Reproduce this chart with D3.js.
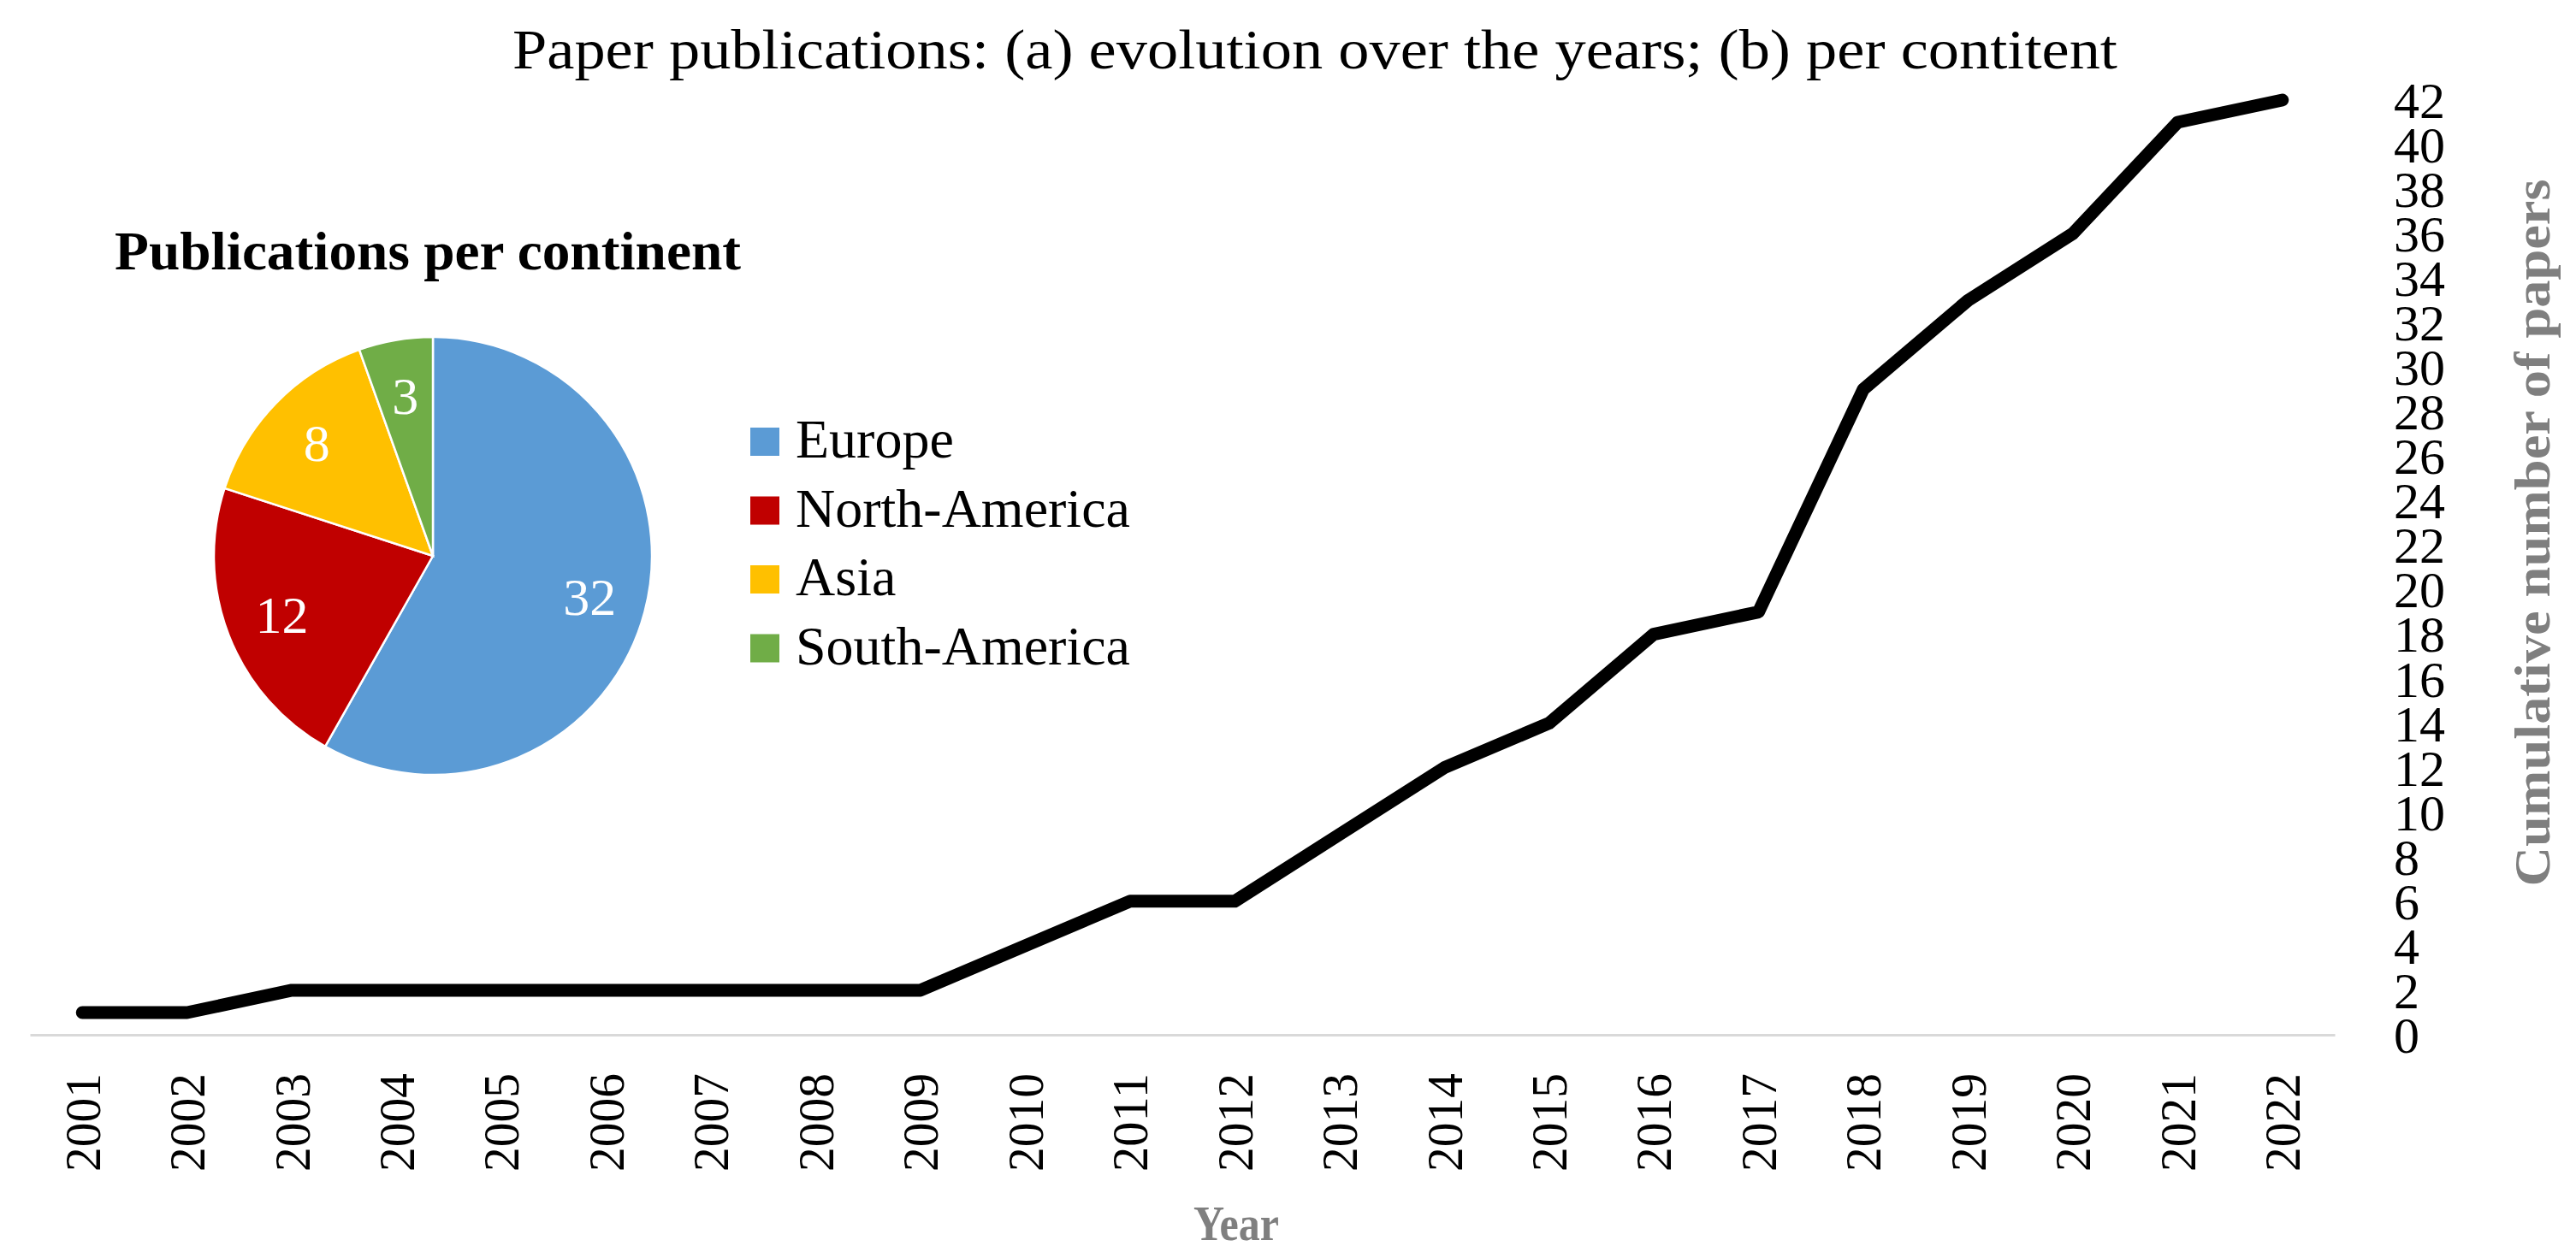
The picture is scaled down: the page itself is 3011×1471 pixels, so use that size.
<!DOCTYPE html>
<html>
<head>
<meta charset="utf-8">
<script src="https://cdn.jsdelivr.net/npm/d3@7"></script>
<style>
  html, body { margin: 0; padding: 0; background: #ffffff; }
  svg { display: block; }
  text { font-family: "Liberation Serif", "DejaVu Serif", serif; }
</style>
</head>
<body>
<script>
// ---------- data ----------
const years = ["2001","2002","2003","2004","2005","2006","2007","2008","2009","2010","2011",
               "2012","2013","2014","2015","2016","2017","2018","2019","2020","2021","2022"];
const cumulativePapers = [1,1,2,2,2,2,2,2,2,4,6,6,9,12,14,18,19,29,33,36,41,42];
const yTickValues = [0,2,4,6,8,10,12,14,16,18,20,22,24,26,28,30,32,34,36,38,40,42];
const continents = ["Europe","North-America","Asia","South-America"];
const continentCounts = [32,12,8,3];
const continentColors = ["#5b9bd5","#c00000","#ffc000","#70ad47"];
const titleText = "Paper publications: (a) evolution over the years; (b) per contitent";
const pieTitle = "Publications per continent";
const xTitle = "Year";
const yTitle = "Cumulative number of papers";

// ---------- layout ----------
const W = 3011, H = 1471;
const svg = d3.select("body").append("svg").attr("width", W).attr("height", H);

const x = d3.scaleBand().domain(years).range([35, 2729]);
const y = d3.scaleLinear().domain([0, 42]).range([1210, 117]);
const cx = d => x(d) + x.bandwidth() / 2;

// title
svg.append("text")
  .attr("x", 599).attr("y", 80)
  .attr("font-size", 66)
  .attr("textLength", 1876).attr("lengthAdjust", "spacingAndGlyphs")
  .attr("fill", "#000")
  .text(titleText);

// x axis
const xAxisG = svg.append("g").attr("transform", "translate(0,1210)")
  .call(d3.axisBottom(x).tickSize(0).tickSizeOuter(0));
xAxisG.select(".domain").attr("stroke", "#d9d9d9").attr("stroke-width", 3);
xAxisG.selectAll(".tick text")
  .attr("font-family", "Liberation Serif")
  .attr("font-size", 60)
  .attr("fill", "#000")
  .attr("transform", "rotate(-90)")
  .attr("x", -45).attr("y", 0).attr("dy", "0.34em")
  .attr("text-anchor", "end")
  .attr("textLength", 115).attr("lengthAdjust", "spacingAndGlyphs");

// y axis (right)
const yAxisG = svg.append("g").attr("transform", "translate(2790,0)")
  .call(d3.axisRight(y).tickValues(yTickValues).tickSize(0).tickPadding(8));
yAxisG.select(".domain").remove();
yAxisG.selectAll(".tick text")
  .attr("font-family", "Liberation Serif")
  .attr("font-size", 60)
  .attr("fill", "#000")
  .attr("dy", "0.34em");

// axis titles
svg.append("text")
  .attr("x", 1445).attr("y", 1450)
  .attr("text-anchor", "middle")
  .attr("font-size", 58).attr("font-weight", "bold")
  .attr("fill", "#7f7f7f")
  .attr("textLength", 100).attr("lengthAdjust", "spacingAndGlyphs")
  .text(xTitle);

svg.append("text")
  .attr("transform", "translate(2980,623) rotate(-90)")
  .attr("text-anchor", "middle")
  .attr("font-size", 60).attr("font-weight", "bold")
  .attr("fill", "#7f7f7f")
  .attr("textLength", 827).attr("lengthAdjust", "spacingAndGlyphs")
  .text(yTitle);

// line
const line = d3.line()
  .x((d, i) => cx(years[i]))
  .y(d => y(d));
svg.append("path")
  .datum(cumulativePapers)
  .attr("d", line)
  .attr("fill", "none")
  .attr("stroke", "#000")
  .attr("stroke-width", 15)
  .attr("stroke-linecap", "round")
  .attr("stroke-linejoin", "round");

// ---------- pie ----------
svg.append("text")
  .attr("x", 134).attr("y", 315)
  .attr("font-size", 64).attr("font-weight", "bold")
  .attr("fill", "#000")
  .attr("textLength", 732).attr("lengthAdjust", "spacingAndGlyphs")
  .text(pieTitle);

const pieData = continents.map((c, i) => ({ name: c, value: continentCounts[i], color: continentColors[i] }));
const pie = d3.pie().value(d => d.value).sort(null);
const R = 256;
const arc = d3.arc().innerRadius(0).outerRadius(R);
const labelArc = d3.arc().innerRadius(R * 0.74).outerRadius(R * 0.74);
const pieG = svg.append("g").attr("transform", "translate(506,650)");
const arcs = pie(pieData);
pieG.selectAll("path.slice").data(arcs).enter().append("path")
  .attr("class", "slice")
  .attr("d", arc)
  .attr("fill", d => d.data.color)
  .attr("stroke", "#ffffff").attr("stroke-width", 2.5);
pieG.selectAll("text.lbl").data(arcs).enter().append("text")
  .attr("class", "lbl")
  .attr("transform", d => `translate(${labelArc.centroid(d)})`)
  .attr("text-anchor", "middle").attr("dy", "0.34em")
  .attr("font-size", 62).attr("fill", "#ffffff")
  .text(d => d.data.value);

// legend
const legend = svg.append("g").attr("transform", "translate(877,500)");
const lg = legend.selectAll("g").data(pieData).enter().append("g")
  .attr("transform", (d, i) => `translate(0,${i * 80.5})`);
lg.append("rect").attr("width", 34).attr("height", 33).attr("fill", d => d.color);
lg.append("text").attr("x", 53).attr("y", 35)
  .attr("font-size", 64).attr("fill", "#000")
  .text(d => d.name);
</script>
</body>
</html>
